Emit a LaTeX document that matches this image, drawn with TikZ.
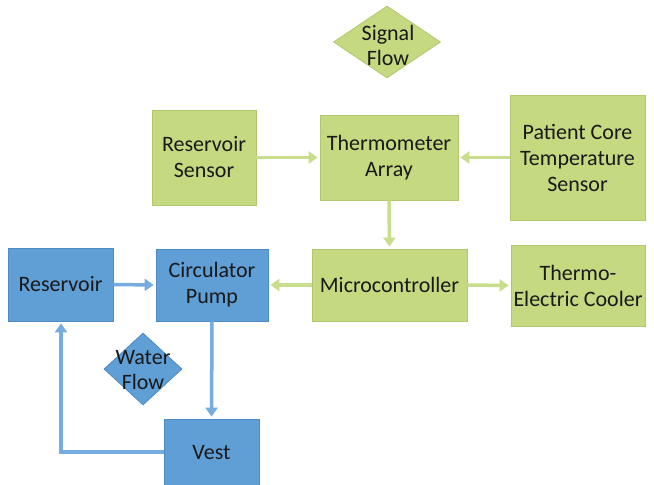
\documentclass[tikz,border=0pt]{standalone}
\usepackage{fontspec}
\setmainfont{Carlito}
\usetikzlibrary{shapes.geometric,arrows.meta}
\definecolor{gfill}{RGB}{197,217,128}
\definecolor{gdraw}{RGB}{178,200,110}
\definecolor{garrow}{RGB}{200,222,140}
\definecolor{bfill}{RGB}{96,158,214}
\definecolor{bdraw}{RGB}{78,138,196}
\definecolor{barrow}{RGB}{118,172,224}
\definecolor{txt}{RGB}{25,25,25}
\tikzset{
  box/.style={rectangle, inner sep=0pt, align=center, text=txt, font=\fontsize{22}{26}\selectfont, line width=0.8pt},
  gbox/.style={box, fill=gfill, draw=gdraw},
  bbox/.style={box, fill=bfill, draw=bdraw},
  dia/.style={diamond, inner sep=0pt, line width=0.8pt},
  lbl/.style={align=center, text=txt, font=\fontsize{22}{25}\selectfont, inner sep=0pt},
  garr/.style={draw=garrow, line width=3.5pt, -{Triangle[length=9pt,width=12pt]}, shorten >=2pt},
  barr/.style={draw=barrow, line width=3.5pt, -{Triangle[length=9pt,width=12pt]}, shorten >=2pt},
}
\begin{document}
\begin{tikzpicture}[x=1pt,y=-1pt]
\clip (0,0) rectangle (654,485);
\fill[white] (0,0) rectangle (654,485);
% signal flow diamond
\node[dia, fill=gfill, draw=gdraw, minimum width=107pt, minimum height=72pt] (sigd) at (387,42) {};
\node[lbl] (sigt) at (388,45) {Signal\\Flow};
% green boxes
\node[gbox, minimum width=104pt, minimum height=95pt] (rs) at (204,157.5) {Reservoir\\Sensor};
\node[gbox, minimum width=138pt, minimum height=85pt] (ta) at (389,157.5) {Thermometer\\Array};
\node[gbox, minimum width=135pt, minimum height=125pt] (pc) at (577.5,157.5) {Patient Core\\Temperature\\Sensor};
\node[gbox, minimum width=155pt, minimum height=72pt] (mc) at (389.5,285) {Microcontroller};
\node[gbox, minimum width=134pt, minimum height=81pt] (tec) at (578,285.5) {Thermo-\\Electric Cooler};
% blue boxes
\node[bbox, minimum width=105pt, minimum height=73pt] (res) at (60.5,284.5) {Reservoir};
\node[bbox, minimum width=112pt, minimum height=72pt] (pump) at (212,285) {Circulator\\Pump};
\node[bbox, minimum width=95pt, minimum height=68pt] (vest) at (211.5,453) {Vest};
\node[dia, fill=bfill, draw=bdraw, minimum width=78pt, minimum height=72pt] (wfd) at (143,369) {};
\node[lbl] (wft) at (143,370) {Water\\Flow};
% green arrows
\draw[garr] (rs.east) -- (ta.west);
\draw[garr] (pc.west) -- (ta.east);
\draw[garr] (ta.south) -- (mc.north);
\draw[garr] (mc.west) -- (pump.east);
\draw[garr] (mc.east) -- (tec.west);
% blue arrows
\draw[barr] (res.east) -- (pump.west);
\draw[barr] (pump.south) -- (vest.north);
\coordinate (corner) at (61,452);
\draw[barr] (vest.west |- corner) -- (corner) -- (res.south -| corner);
\end{tikzpicture}
\end{document}
